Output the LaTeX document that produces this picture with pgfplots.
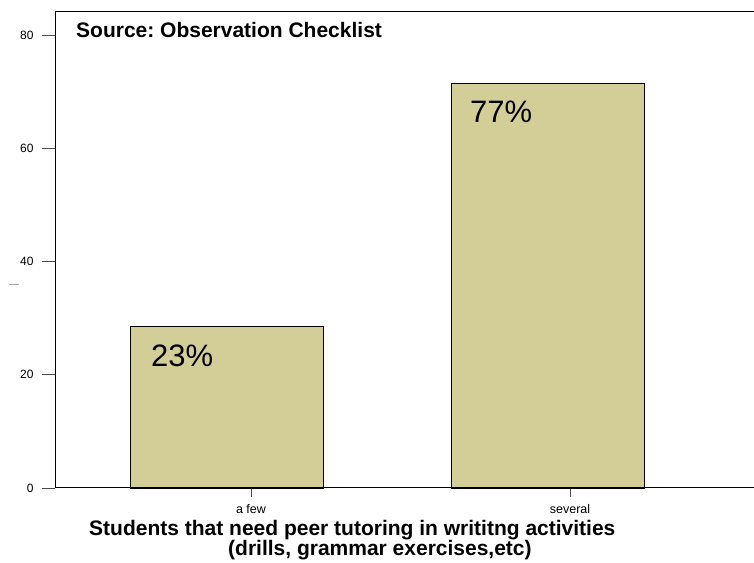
\documentclass[border=0pt]{standalone}
\usepackage{pgfplots}
\pgfplotsset{compat=1.18}
\usepackage{fontspec}
\setmainfont{Liberation Sans}
\frenchspacing
\definecolor{barfill}{RGB}{211,206,152}
\begin{document}
\begin{tikzpicture}[x=1bp,y=1bp]
\path[use as bounding box] (0,0) rectangle (754,563);
\begin{axis}[
  at={(55bp,75bp)}, anchor=south west,
  scale only axis, width=699bp, height=476bp,
  xmin=0, xmax=699, ymin=0, ymax=84.06,
  axis x line*=bottom, axis y line*=left,
  axis line style={draw=none},
  xtick={196,515}, xticklabels={a few, several},
  ytick={0,20,40,60,80},
  tick align=outside,
  xtick style={gray!60!black, line width=0.8bp, /pgfplots/major tick length=9bp},
  ytick style={gray!60!black, line width=0.8bp, /pgfplots/major tick length=13bp},
  /pgf/number format/assume math mode=true,
  yticklabel style={font=\fontsize{12bp}{14bp}\selectfont, inner sep=0pt, xshift=-17bp},
  xticklabel style={font=\fontsize{12.5bp}{14bp}\selectfont, inner sep=0pt, yshift=-12bp},
  clip=false,
]
\addplot[ybar, bar width=193, fill=barfill, draw=black, line width=0.7bp]
  coordinates {(172,28.57) (493,71.43)};
\node[anchor=base west, font=\fontsize{31bp}{33bp}\selectfont, inner sep=0pt]
  at (axis cs:76,28.57) [xshift=20bp, yshift=-40bp] {23\%};
\node[anchor=base west, font=\fontsize{31bp}{33bp}\selectfont, inner sep=0pt]
  at (axis cs:396,71.43) [xshift=19bp, yshift=-39bp] {77\%};
\draw[line width=1bp, black, line cap=rect] (rel axis cs:1,1) -- (rel axis cs:0,1) -- (rel axis cs:0,0) -- (rel axis cs:1,0);
\end{axis}
\node[anchor=base west, inner sep=0pt, font=\bfseries\fontsize{21bp}{24bp}\selectfont] at (76,525) {Source: Observation Checklist};
\node[anchor=base west, inner sep=0pt, font=\bfseries\fontsize{21bp}{24bp}\selectfont] at (89,27) {Students that need peer tutoring in writitng activities};
\node[anchor=base west, inner sep=0pt, font=\bfseries\fontsize{21bp}{24bp}\selectfont] at (228,7) {(drills, grammar exercises,etc)};
\fill[gray!70] (9,278.7) rectangle (19,279.3);
\end{tikzpicture}
\end{document}
